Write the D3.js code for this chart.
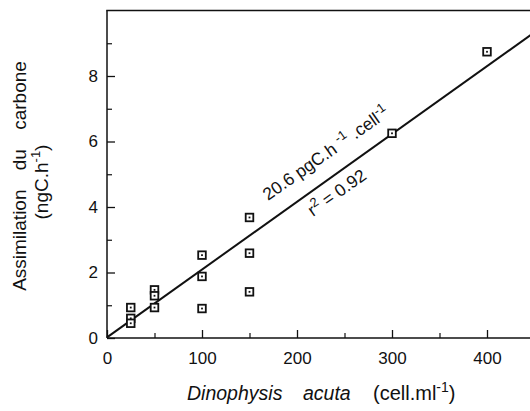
<!DOCTYPE html>
<html>
<head>
<meta charset="utf-8">
<script src="https://cdn.jsdelivr.net/npm/d3@7"></script>
<style>
  html, body { margin: 0; padding: 0; background: #fff; }
  svg { display: block; }
  text { font-family: "Liberation Sans", Arial, sans-serif; fill: #111; }
</style>
</head>
<body>
<svg id="chart" width="530" height="411"></svg>
<script>
// ---- data ----
const cellsX = [25, 25, 25, 50, 50, 50, 100, 100, 100, 150, 150, 150, 300, 400];
const carbonY = [0.93, 0.6, 0.45, 1.47, 1.29, 0.93, 2.53, 1.88, 0.9, 3.68, 2.59, 1.41, 6.25, 8.74];
const xTicks = [0, 100, 200, 300, 400];
const xMinorTicks = [50, 150, 250, 350];
const yTicks = [0, 2, 4, 6, 8];
const yMinorTicks = [1, 3, 5, 7, 9];
const fitSlope = 0.0207;   // ngC.h-1 per cell.ml-1
const fitIntercept = 0.02;
const fitRange = [0, 450];

// ---- chart ----
const svg = d3.select("#chart");
const x = d3.scaleLinear().domain([0, 450]).range([107, 534.5]);
const y = d3.scaleLinear().domain([0, 10]).range([338, 10.5]);

const ink = "#111";

// frame: bottom, left, top
svg.append("line").attr("x1", x(0)).attr("x2", 530).attr("y1", y(0)).attr("y2", y(0))
  .attr("stroke", ink).attr("stroke-width", 1.5);
svg.append("line").attr("x1", x(0)).attr("x2", x(0)).attr("y1", y(0)).attr("y2", y(10))
  .attr("stroke", ink).attr("stroke-width", 1.5);
svg.append("line").attr("x1", x(0) - 0.75).attr("x2", 530).attr("y1", y(10)).attr("y2", y(10))
  .attr("stroke", ink).attr("stroke-width", 1.6);

// x axis (ticks pointing inward)
const xAxis = d3.axisBottom(x).tickValues(xTicks).tickSizeInner(-8).tickSizeOuter(0).tickPadding(14)
  .tickFormat(d3.format("d"));
const gx = svg.append("g").attr("transform", `translate(0,${y(0)})`).call(xAxis);
gx.select(".domain").remove();
gx.selectAll("line").attr("stroke", ink).attr("stroke-width", 1.3);
gx.selectAll("text").attr("font-size", 17).attr("fill", ink);
const xAxisMinor = d3.axisBottom(x).tickValues(xMinorTicks).tickSizeInner(-5).tickSizeOuter(0).tickFormat("");
const gxm = svg.append("g").attr("transform", `translate(0,${y(0)})`).call(xAxisMinor);
gxm.select(".domain").remove();
gxm.selectAll("line").attr("stroke", ink).attr("stroke-width", 1.2);

// y axis (ticks pointing inward)
const yAxis = d3.axisLeft(y).tickValues(yTicks).tickSizeInner(-8).tickSizeOuter(0).tickPadding(9)
  .tickFormat(d3.format("d"));
const gy = svg.append("g").attr("transform", `translate(${x(0)},0)`).call(yAxis);
gy.select(".domain").remove();
gy.selectAll("line").attr("stroke", ink).attr("stroke-width", 1.3);
gy.selectAll("text").attr("font-size", 17).attr("fill", ink);
const yAxisMinor = d3.axisLeft(y).tickValues(yMinorTicks).tickSizeInner(-5).tickSizeOuter(0).tickFormat("");
const gym = svg.append("g").attr("transform", `translate(${x(0)},0)`).call(yAxisMinor);
gym.select(".domain").remove();
gym.selectAll("line").attr("stroke", ink).attr("stroke-width", 1.2);

// regression line
const fit = fitRange.map(v => [v, fitIntercept + fitSlope * v]);
svg.append("path")
  .attr("d", d3.line().x(d => x(d[0])).y(d => y(d[1]))(fit))
  .attr("fill", "none").attr("stroke", ink).attr("stroke-width", 2);

// points: small squares with centre dot
const pts = cellsX.map((c, i) => [c, carbonY[i]]);
const g = svg.append("g");
g.selectAll("rect.pt").data(pts).join("rect").attr("class", "pt")
  .attr("x", d => x(d[0]) - 3.8).attr("y", d => y(d[1]) - 3.8)
  .attr("width", 7.6).attr("height", 7.6)
  .attr("fill", "#fff").attr("stroke", ink).attr("stroke-width", 1.8);
g.selectAll("rect.dot").data(pts).join("rect").attr("class", "dot")
  .attr("x", d => x(d[0]) - 0.9).attr("y", d => y(d[1]) - 0.9)
  .attr("width", 1.8).attr("height", 1.8).attr("fill", ink);

// annotations along the line
const ang = -Math.atan2(y(0) - y(fitSlope * 100), x(100) - x(0)) * 180 / Math.PI;
const annFont = "'Open Sans', 'DejaVu Sans', sans-serif";
const ann1 = svg.append("text").attr("transform", `translate(268,201) rotate(${ang + 0.5})`)
  .attr("font-size", 17.5).attr("font-family", annFont);
ann1.append("tspan").text("20.6 pgC.h ");
ann1.append("tspan").attr("font-size", 13).attr("dy", -7).text("-1");
ann1.append("tspan").attr("dy", 7).text(" .cell");
ann1.append("tspan").attr("font-size", 13).attr("dy", -7).text("-1");

const ann2 = svg.append("text").attr("transform", `translate(313,217) rotate(${ang})`)
  .attr("font-size", 17.5).attr("font-family", annFont);
ann2.append("tspan").text("r");
ann2.append("tspan").attr("font-size", 13).attr("dy", -7).text("2");
ann2.append("tspan").attr("dy", 7).text(" = 0.92");

// y axis title (two lines)
svg.append("text").attr("transform", "translate(26,176) rotate(-90)")
  .attr("text-anchor", "middle").attr("font-size", 19).attr("word-spacing", 14)
  .text("Assimilation du carbone");
const yt2 = svg.append("text").attr("transform", "translate(48,182) rotate(-90)")
  .attr("text-anchor", "middle").attr("font-size", 19);
yt2.append("tspan").text("(ngC.h");
yt2.append("tspan").attr("font-size", 13).attr("dy", -8).text("-1");
yt2.append("tspan").attr("dy", 8).text(")");

// x axis title
svg.append("text").attr("x", 187).attr("y", 400).attr("font-size", 19.5).attr("font-style", "italic")
  .text("Dinophysis");
svg.append("text").attr("x", 303).attr("y", 400).attr("font-size", 19.5).attr("font-style", "italic")
  .text("acuta");
const xt = svg.append("text").attr("x", 373).attr("y", 400).attr("font-size", 20);
xt.append("tspan").text("(cell.ml");
xt.append("tspan").attr("font-size", 14).attr("dy", -8).text("-1");
xt.append("tspan").attr("dy", 8).text(")");
</script>
</body>
</html>
